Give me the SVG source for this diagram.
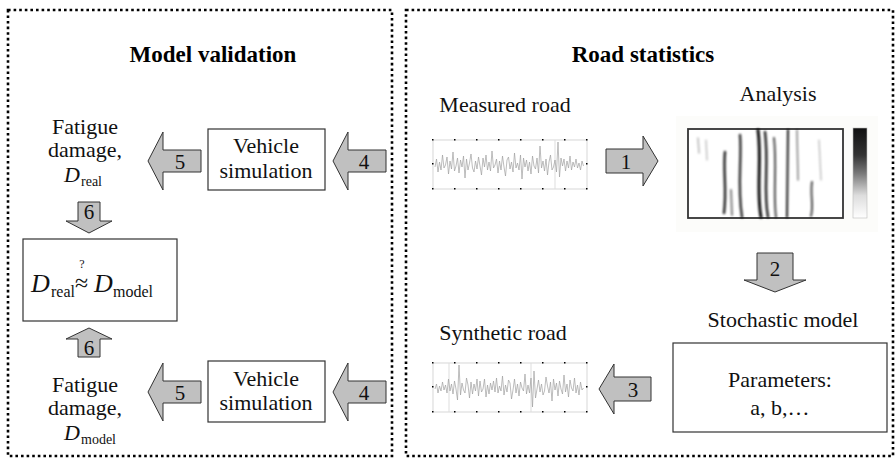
<svg xmlns="http://www.w3.org/2000/svg" width="895" height="462" viewBox="0 0 895 462">
<style>
text{font-family:'Liberation Serif','Times New Roman','DejaVu Serif',Times,serif}
.t{font-size:22px;fill:#111;text-anchor:middle}
.b{font-size:23px;font-weight:bold;fill:#000;text-anchor:middle}
.n{font-size:21px;fill:#111;text-anchor:middle}
.i{font-style:italic;fill:#111}
.s{fill:#111}
.panel{fill:none;stroke:#000;stroke-width:2.6;stroke-dasharray:2.6 3}
.box{fill:#fff;stroke:#333;stroke-width:1.2}
.arr{fill:#c0c0c0;stroke:#333;stroke-width:1}
.frame{fill:#fff;stroke:#ccc;stroke-width:0.8}
.wave{fill:none;stroke:#a0a0a0;stroke-width:0.7}
.tick{fill:#000}
.streak{fill:none;stroke:#000;stroke-linecap:round}
</style>
<defs>
<linearGradient id="cb" x1="0" y1="0" x2="0" y2="1">
<stop offset="0" stop-color="#111"/>
<stop offset="0.3" stop-color="#333"/>
<stop offset="0.5" stop-color="#777"/>
<stop offset="0.75" stop-color="#ddd"/>
<stop offset="1" stop-color="#fff"/>
</linearGradient>
<filter id="bl" x="-20%" y="-20%" width="140%" height="140%"><feGaussianBlur stdDeviation="1"/></filter>
</defs>

<rect class="panel" x="8" y="10" width="384" height="446"/>
<rect class="panel" x="406" y="10" width="487" height="446"/>

<text class="b" x="213" y="62">Model validation</text>
<text class="b" x="643" y="62">Road statistics</text>

<g id="connectors">
<g id="arrow5a"><polygon class="arr" points="148,161 163,132 163,150 201,150 201,172 163,172 163,190"/><text class="n" x="180" y="169">5</text></g>
<g id="arrow4a"><polygon class="arr" points="333,161 348,132 348,150 386,150 386,172 348,172 348,190"/><text class="n" x="364" y="169">4</text></g>
<g id="arrow6a"><polygon class="arr" points="78,202 100,202 100,221 112,221 89,233 66,221 78,221"/><text class="n" x="89" y="219">6</text></g>
<g id="arrow6b"><polygon class="arr" points="89,328 112,339 100,339 100,357 78,357 78,339 66,339"/><text class="n" x="89" y="355">6</text></g>
<g id="arrow5b"><polygon class="arr" points="148,392 163,363 163,381 201,381 201,403 163,403 163,421"/><text class="n" x="180" y="400">5</text></g>
<g id="arrow4b"><polygon class="arr" points="333,392 348,363 348,381 386,381 386,403 348,403 348,421"/><text class="n" x="364" y="400">4</text></g>
<g id="arrow1"><polygon class="arr" points="606,149 643,149 643,136 658,161 643,186 643,173 606,173"/><text class="n" x="626" y="169">1</text></g>
<g id="arrow2"><polygon class="arr" points="757,253 793,253 793,280 806,280 775,292 744,280 757,280"/><text class="n" x="775" y="276">2</text></g>
<g id="arrow3"><polygon class="arr" points="599,389 614,364 614,377 651,377 651,401 614,401 614,414"/><text class="n" x="633" y="397">3</text></g>
</g>

<g id="fatigue-real">
<text class="t" x="85" y="134">Fatigue</text>
<text class="t" x="85" y="157">damage,</text>
<text class="i" x="64" y="182" font-size="22">D</text><text class="s" x="81" y="186" font-size="14">real</text>
</g>

<g id="vehsim-top">
<rect class="box" x="208" y="129" width="117" height="61"/>
<text class="t" x="266" y="153">Vehicle</text>
<text class="t" x="266" y="178">simulation</text>
</g>

<g id="compare">
<rect class="box" x="23" y="239" width="154" height="82"/>
<text class="i" x="31" y="292" font-size="26">D</text>
<text class="s" x="51" y="297" font-size="16">real</text>
<text class="s" x="75" y="291" font-size="24">≈</text>
<text class="s" x="82" y="268" font-size="12" text-anchor="middle">?</text>
<text class="i" x="94" y="292" font-size="26">D</text>
<text class="s" x="113" y="297" font-size="16">model</text>
</g>

<g id="fatigue-model">
<text class="t" x="85" y="392">Fatigue</text>
<text class="t" x="85" y="415">damage,</text>
<text class="i" x="64" y="440" font-size="22">D</text><text class="s" x="81" y="444" font-size="14">model</text>
</g>

<g id="vehsim-bottom">
<rect class="box" x="208" y="361" width="117" height="61"/>
<text class="t" x="266" y="386">Vehicle</text>
<text class="t" x="266" y="410">simulation</text>
</g>

<g id="measured">
<text class="t" x="505" y="112">Measured road</text>
<rect class="frame" x="433" y="140" width="154" height="49"/>
<line x1="555" y1="140" x2="555" y2="189" stroke="#ddd" stroke-width="1"/>
<polyline class="wave" vector-effect="non-scaling-stroke" transform="translate(435,164) scale(1.5,1)" points="0,3 1,-5 2,8 3,-2 4,6 5,-9 6,4 7,1 8,-7 9,10 10,-3 11,5 12,-12 13,7 14,2 15,-6 16,9 17,-4 18,3 19,-8 20,14 21,-5 22,6 23,-1 24,-10 25,4 26,8 27,-3 28,5 29,-7 30,2 31,11 32,-6 33,3 34,-9 35,6 36,-2 37,7 38,-13 39,4 40,1 41,-5 42,9 43,-3 44,6 45,-8 46,3 47,12 48,-4 49,-7 50,5 51,-2 52,8 53,-11 54,4 55,-1 56,6 57,-9 58,15 59,-6 60,3 61,-4 62,7 63,-2 64,10 65,-8 66,2 67,5 68,-6 69,9 70,-18 71,4 72,-3 73,7 74,-5 75,11 76,-2 77,-9 78,6 79,3 80,-4 81,8 82,-22 83,13 84,-6 85,2 86,-5 87,7 88,-3 89,4 90,-8 91,6 92,-2 93,3 94,-5 95,4 96,-1 97,6 98,-3 99,2"/>
<g class="tick">
<rect x="432" y="139" width="1.5" height="1.5"/><rect x="454" y="139" width="1.5" height="1.5"/><rect x="476" y="139" width="1.5" height="1.5"/><rect x="498" y="139" width="1.5" height="1.5"/><rect x="520" y="139" width="1.5" height="1.5"/><rect x="542" y="139" width="1.5" height="1.5"/><rect x="564" y="139" width="1.5" height="1.5"/><rect x="586" y="139" width="1.5" height="1.5"/>
<rect x="432" y="188" width="1.5" height="1.5"/><rect x="454" y="188" width="1.5" height="1.5"/><rect x="476" y="188" width="1.5" height="1.5"/><rect x="498" y="188" width="1.5" height="1.5"/><rect x="520" y="188" width="1.5" height="1.5"/><rect x="542" y="188" width="1.5" height="1.5"/><rect x="564" y="188" width="1.5" height="1.5"/><rect x="586" y="188" width="1.5" height="1.5"/>
<rect x="432" y="163" width="1.5" height="1.5"/><rect x="586" y="163" width="1.5" height="1.5"/>
</g>
</g>

<g id="analysis">
<text class="t" x="778" y="101">Analysis</text>
<rect x="676" y="116" width="202" height="116" fill="#fcfcfa"/>
<rect x="688" y="129" width="155" height="89" fill="#fff" stroke="#333" stroke-width="1.8"/>
<g filter="url(#bl)">
<path class="streak" d="M698,138 L699,153" stroke-width="1.5" opacity="0.3"/>
<path class="streak" d="M706,140 L707,160" stroke-width="1.2" opacity="0.3"/>
<path class="streak" d="M725,152 C723,170 727,190 724,213" stroke-width="2.5" opacity="0.85"/>
<path class="streak" d="M731,190 L732,215" stroke-width="2" opacity="0.5"/>
<path class="streak" d="M740,135 C742,160 737,185 742,217" stroke-width="2.5" opacity="0.8"/>
<path class="streak" d="M758,130 C762,160 756,190 761,217" stroke-width="3" opacity="0.95"/>
<path class="streak" d="M765,132 C769,165 763,190 768,217" stroke-width="2.5" opacity="0.85"/>
<path class="streak" d="M774,138 C777,165 773,195 776,217" stroke-width="2" opacity="0.7"/>
<path class="streak" d="M788,130 L787,217" stroke-width="2" opacity="0.9"/>
<path class="streak" d="M797,130 L798,180" stroke-width="1.5" opacity="0.5"/>
<path class="streak" d="M812,182 C810,195 814,205 811,216" stroke-width="2" opacity="0.7"/>
<path class="streak" d="M819,140 L821,180" stroke-width="1.2" opacity="0.3"/>
</g>
<rect x="853" y="128" width="14" height="90" fill="url(#cb)" stroke="#bbb" stroke-width="0.6"/>
</g>

<g id="stochastic">
<text class="t" x="783" y="327" font-size="23">Stochastic model</text>
<rect class="box" x="673" y="343" width="214" height="89"/>
<text class="t" x="780" y="387">Parameters:</text>
<text class="t" x="780" y="415">a, b,…</text>
</g>

<g id="synthetic">
<text class="t" x="503" y="340">Synthetic road</text>
<rect class="frame" x="433" y="363" width="154" height="49"/>
<line x1="449" y1="363" x2="449" y2="412" stroke="#ddd" stroke-width="1"/>
<line x1="531" y1="363" x2="531" y2="412" stroke="#ddd" stroke-width="1"/>
<polyline class="wave" vector-effect="non-scaling-stroke" transform="translate(435,387) scale(1.5,1)" points="0,2 1,-3 2,6 3,-1 4,4 5,-5 6,3 7,-2 8,6 9,-8 10,4 11,-3 12,7 13,-6 14,2 15,13 16,-22 17,8 18,-4 19,3 20,6 21,-9 22,-2 23,11 24,-5 25,7 26,-3 27,4 28,-8 29,9 30,-6 31,5 32,2 33,-8 34,10 35,-2 36,7 37,-4 38,3 39,-6 40,5 41,-9 42,6 43,-1 44,4 45,-11 46,8 47,-2 48,5 49,-7 50,-4 51,12 52,3 53,-8 54,6 55,-3 56,9 57,-5 58,1 59,4 60,-13 61,7 62,-2 63,6 64,-9 65,20 66,-16 67,11 68,2 69,-7 70,5 71,-3 72,8 73,4 74,-10 75,-1 76,6 77,-5 78,14 79,-8 80,3 81,-4 82,9 83,-6 84,2 85,7 86,-12 87,5 88,-3 89,10 90,-7 91,1 92,4 93,-9 94,6 95,-2 96,8 97,-5 98,3 99,1"/>
<g class="tick">
<rect x="432" y="362" width="1.5" height="1.5"/><rect x="454" y="362" width="1.5" height="1.5"/><rect x="476" y="362" width="1.5" height="1.5"/><rect x="498" y="362" width="1.5" height="1.5"/><rect x="520" y="362" width="1.5" height="1.5"/><rect x="542" y="362" width="1.5" height="1.5"/><rect x="564" y="362" width="1.5" height="1.5"/><rect x="586" y="362" width="1.5" height="1.5"/>
<rect x="432" y="411" width="1.5" height="1.5"/><rect x="454" y="411" width="1.5" height="1.5"/><rect x="476" y="411" width="1.5" height="1.5"/><rect x="498" y="411" width="1.5" height="1.5"/><rect x="520" y="411" width="1.5" height="1.5"/><rect x="542" y="411" width="1.5" height="1.5"/><rect x="564" y="411" width="1.5" height="1.5"/><rect x="586" y="411" width="1.5" height="1.5"/>
<rect x="432" y="386" width="1.5" height="1.5"/><rect x="586" y="386" width="1.5" height="1.5"/>
</g>
</g>
</svg>
